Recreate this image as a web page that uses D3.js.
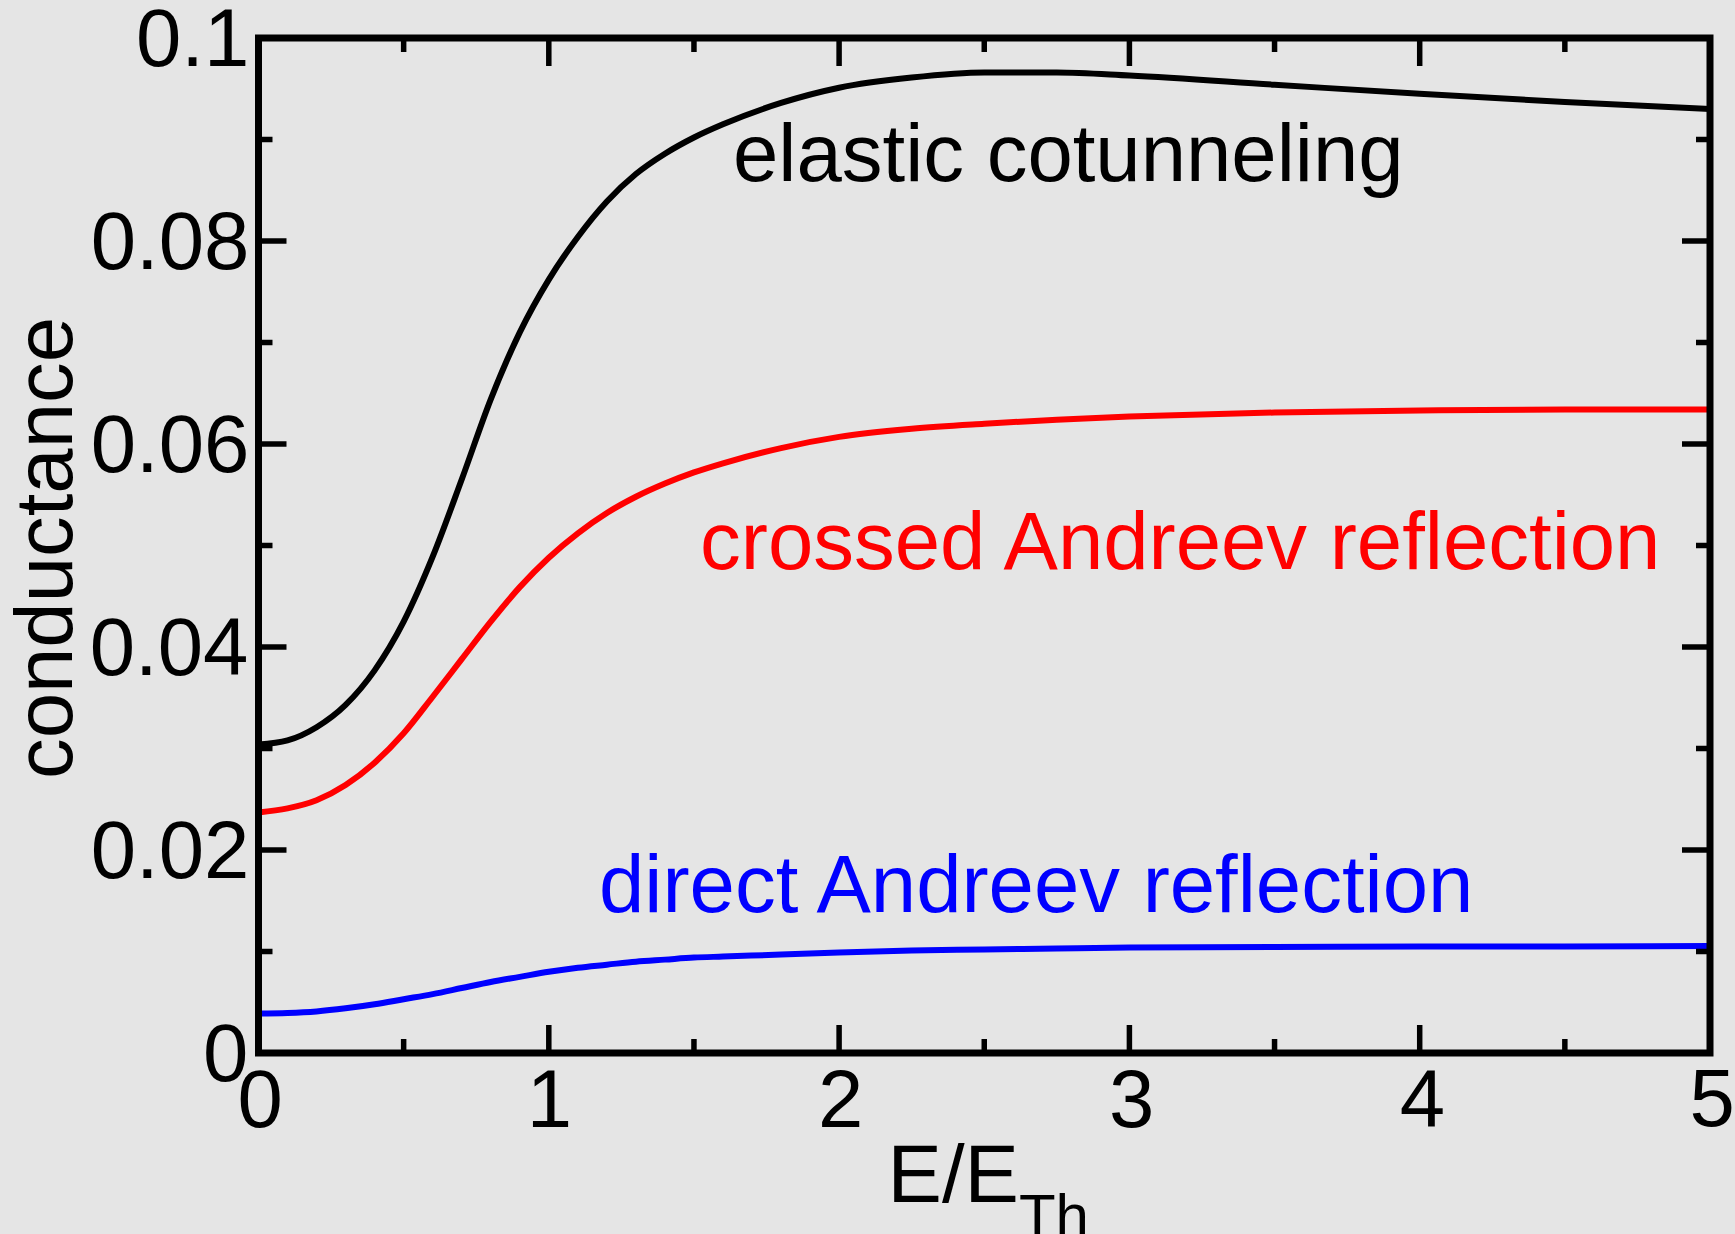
<!DOCTYPE html>
<html>
<head>
<meta charset="utf-8">
<script src="https://cdn.jsdelivr.net/npm/d3@7"></script>
<style>
html,body{margin:0;padding:0;background:#e5e5e5;}
svg{display:block;}
text{font-family:"Liberation Sans",Arial,Helvetica,sans-serif;}
</style>
</head>
<body>
<svg id="chart" width="1735" height="1234"></svg>
<script>
// ---- data ----
const energy = [0,0.1,0.2,0.3,0.4,0.5,0.6,0.7,0.8,0.9,1.0,1.1,1.2,1.3,1.4,1.5,1.6,1.8,2.0,2.25,2.5,2.75,3.0,3.5,4.0,4.5,5.0];
const elasticCotunneling = [0.0304,0.0308,0.0321,0.0343,0.0377,0.0425,0.0489,0.0565,0.0644,0.0710,0.0762,0.0804,0.0839,0.0866,0.0886,0.0902,0.0915,0.0936,0.0951,0.0961,0.0966,0.0966,0.0963,0.0954,0.0945,0.0937,0.0930];
const crossedAndreev = [0.0237,0.0241,0.0249,0.0264,0.0286,0.0315,0.0351,0.0388,0.0425,0.0459,0.0488,0.0512,0.0532,0.0548,0.0561,0.0572,0.0581,0.0596,0.0607,0.0615,0.0620,0.0624,0.0627,0.0631,0.0633,0.0634,0.0634];
const directAndreev = [0.0039,0.00395,0.0041,0.0044,0.0048,0.0053,0.0058,0.0064,0.0070,0.0075,0.0080,0.0084,0.0087,0.0090,0.0092,0.0094,0.0095,0.0097,0.0099,0.0101,0.0102,0.0103,0.0104,0.01045,0.0105,0.0105,0.01053];
const seriesNames = ["elastic cotunneling","crossed Andreev reflection","direct Andreev reflection"];
const seriesColors = ["#000000","#ff0000","#0000ff"];
const xTickValues = [0,1,2,3,4,5];
const xTickLabels = ["0","1","2","3","4","5"];
const yTickValues = [0,0.02,0.04,0.06,0.08,0.1];
const yTickLabels = ["0","0.02","0.04","0.06","0.08","0.1"];
const xTitle = "E/E";
const xTitleSub = "Th";
const yTitle = "conductance";

(function(){
// ---- layout ----
const W = 1735, H = 1234;
const pL = 258.5, pR = 1710, pT = 38, pB = 1053;
const FONT = '"Liberation Sans",Arial,Helvetica,sans-serif';
const fs = 81.5;

const x = d3.scaleLinear().domain([0,5]).range([pL,pR]);
const y = d3.scaleLinear().domain([0,0.1]).range([pB,pT]);

const svg = d3.select("#chart");
svg.append("rect").attr("width",W).attr("height",H).attr("fill","#e5e5e5");

// measure ink
const cv = document.createElement("canvas").getContext("2d");
cv.font = fs + "px " + FONT;
function ink(t){ const m = cv.measureText(t); return {l:m.actualBoundingBoxLeft, r:m.actualBoundingBoxRight, a:m.actualBoundingBoxAscent, d:m.actualBoundingBoxDescent, w:m.width}; }

// curves
const series = [elasticCotunneling, crossedAndreev, directAndreev];
const line = d3.line().x((d,i)=>x(energy[i])).y(d=>y(d)).curve(d3.curveMonotoneX);
series.forEach((s,k)=>{
  svg.append("path").datum(s).attr("d",line).attr("fill","none")
    .attr("stroke",seriesColors[k]).attr("stroke-width",6).attr("stroke-linejoin","round");
});

// ticks (inward, all four sides)
const majLen = 28, minLen = 14;
const g = svg.append("g").attr("stroke","#000").attr("stroke-width",5.5);
d3.range(0,5.0001,0.5).forEach(v=>{
  const len = (Math.abs(v-Math.round(v))<1e-9)? majLen : minLen;
  g.append("line").attr("x1",x(v)).attr("x2",x(v)).attr("y1",pB).attr("y2",pB-len);
  g.append("line").attr("x1",x(v)).attr("x2",x(v)).attr("y1",pT).attr("y2",pT+len);
});
d3.range(0,0.10001,0.01).forEach((v,i)=>{
  const len = (i%2===0)? majLen : minLen;
  g.append("line").attr("y1",y(v)).attr("y2",y(v)).attr("x1",pL).attr("x2",pL+len);
  g.append("line").attr("y1",y(v)).attr("y2",y(v)).attr("x1",pR).attr("x2",pR-len);
});

// frame
svg.append("rect").attr("x",pL).attr("y",pT).attr("width",pR-pL).attr("height",pB-pT)
  .attr("fill","none").attr("stroke","#000").attr("stroke-width",7).attr("stroke-linejoin","miter");

// y tick labels: ink right-aligned, ink-centered vertically
yTickValues.forEach((v,i)=>{
  const t = yTickLabels[i], m = ink(t);
  svg.append("text").attr("x",246 - m.r).attr("y",y(v) + (m.a - m.d)/2)
    .attr("font-size",fs).attr("fill","#000").text(t);
});
// x tick labels: centered
xTickValues.forEach((v,i)=>{
  const t = xTickLabels[i], m = ink(t);
  svg.append("text").attr("x",x(v) - (m.r - m.l)/2 + 2).attr("y",1070 + m.a)
    .attr("font-size",fs).attr("fill","#000").text(t);
});

// axis titles
const xt = svg.append("text").attr("x",(pL+pR)/2 + 4).attr("y",1202).attr("text-anchor","middle")
  .attr("font-size",fs).attr("fill","#000");
xt.append("tspan").text(xTitle);
xt.append("tspan").attr("font-size",60).attr("dy",34).text(xTitleSub);

svg.append("text").attr("transform","translate(72,548) rotate(-90)").attr("text-anchor","middle")
  .attr("font-size",fs).attr("fill","#000").text(yTitle);

// series annotations
const annPos = [[733,181],[700,569],[599,912]];
seriesNames.forEach((n,k)=>{
  svg.append("text").attr("x",annPos[k][0]).attr("y",annPos[k][1]).attr("font-size",fs)
    .attr("fill",seriesColors[k]).text(n);
});
})();
</script>
</body>
</html>
